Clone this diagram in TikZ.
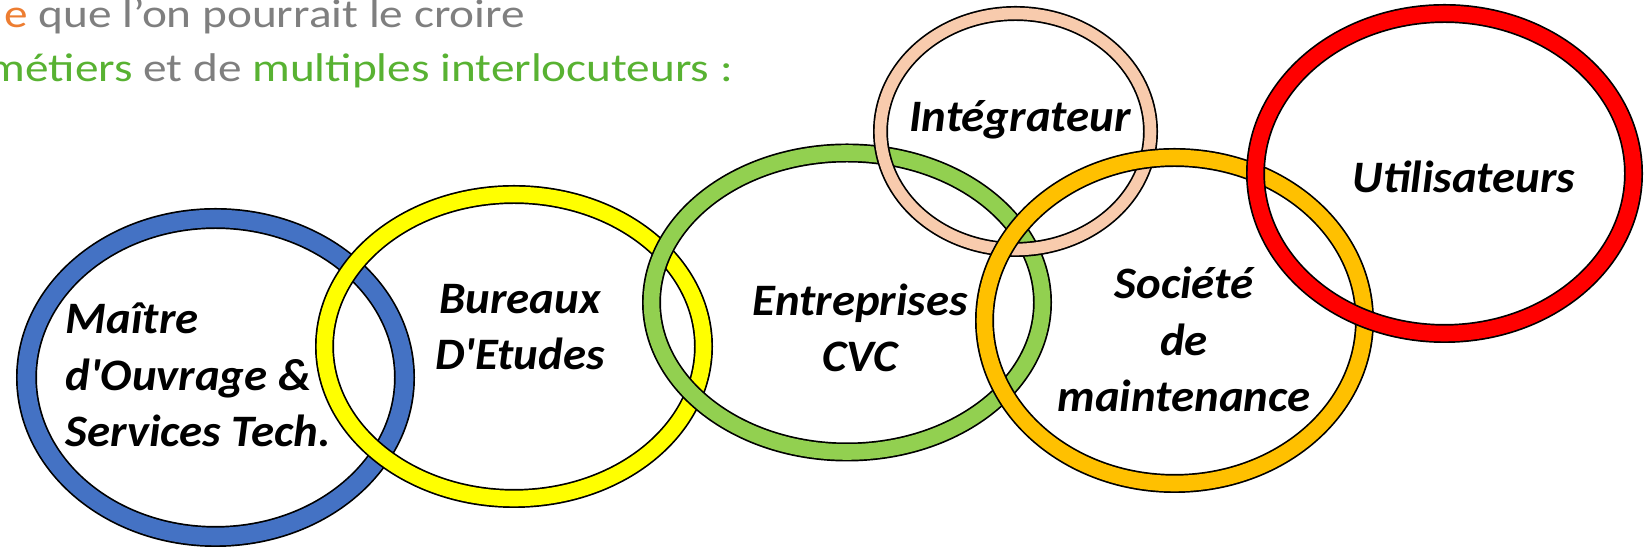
\documentclass[tikz,border=0pt]{standalone}
\usepackage{fontspec}
\newfontfamily\slidefont[FakeStretch=1.18]{Carlito}
\newfontfamily\ringfont[FakeStretch=1.04]{Carlito}
\definecolor{ringblue}{HTML}{4472C4}
\definecolor{ringyellow}{HTML}{FFFF00}
\definecolor{ringgreen}{HTML}{92D050}
\definecolor{ringpeach}{HTML}{F8CBAD}
\definecolor{ringorange}{HTML}{FFC000}
\definecolor{ringred}{HTML}{FF0000}
\definecolor{slidegray}{HTML}{7F7F7F}
\definecolor{slideorange}{HTML}{ED7D31}
\definecolor{slidegreen}{RGB}{88,178,50}

\begin{document}
\begin{tikzpicture}[
    x=0.1mm, y=-0.1mm,
    ringlabel/.style={
        font=\ringfont\bfseries\itshape\fontsize{12.8pt}{16.2pt}\selectfont,
        inner sep=0pt, align=center, anchor=base,
    },
    headline/.style={
        font=\slidefont\fontsize{11.4pt}{15.4pt}\selectfont,
        inner sep=0pt, anchor=base west, text=slidegray,
    },
]
    \useasboundingbox (0,0) rectangle (1644,549);
    \clip (0,0) rectangle (1644,549);

    % two lines of the slide text above
    \node[headline] (croire) at (4,28)
        {\textcolor{slideorange}{e} que l’on pourrait le croire};
    \node[headline] (metiers) at (-13,82)
        {\textcolor{slidegreen}{métiers} et de \textcolor{slidegreen}{multiples interlocuteurs :}};

    % rings: black rim, then the coloured band on top
    \foreach \cx/\cy/\rx/\ry/\wo/\wi/\col in {
        215.5/377.5/189/159/2.1/1.76/ringblue,
        514/346.5/189.5/152/1.9/1.56/ringyellow,
        847/302.5/195.5/149.5/1.9/1.56/ringgreen,
        1015.5/131.5/135/118/1.5/1.16/ringpeach,
        1174.5/320.5/190/163/1.9/1.56/ringorange,
        1444.5/173.5/189/160/1.9/1.56/ringred}
    {
        \draw[line width=\wo mm] (\cx,\cy) ellipse [x radius=\rx, y radius=\ry];
        \draw[\col, line width=\wi mm] (\cx,\cy) ellipse [x radius=\rx, y radius=\ry];
    }

    % labels, placed at the baseline of their last line
    \node[ringlabel, align=left, anchor=base west] (moa) at (65,447)
        {Maître\\d\textquotesingle Ouvrage \&\\Services Tech.};
    \node[ringlabel] (be) at (520,370) {Bureaux\\D\textquotesingle Etudes};
    \node[ringlabel] (cvc) at (860,372) {Entreprises\\CVC};
    \node[ringlabel] (integ) at (1020,132) {Intégrateur};
    \node[ringlabel] (maint) at (1184,412) {Société\\de\\maintenance};
    \node[ringlabel] (users) at (1464,193) {Utilisateurs};
\end{tikzpicture}
\end{document}
